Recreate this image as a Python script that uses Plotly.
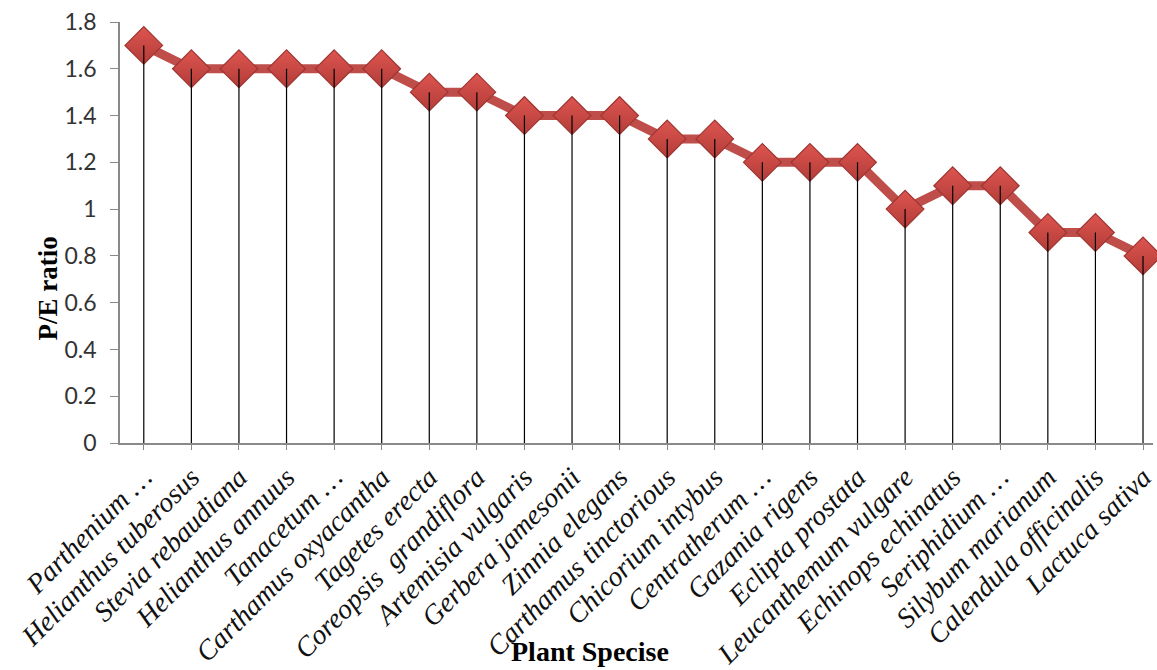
import plotly.graph_objects as go

species = [
    "Parthenium …", "Helianthus tuberosus", "Stevia rebaudiana", "Helianthus annuus",
    "Tanacetum …", "Carthamus oxyacantha", "Tagetes erecta", "Coreopsis\u00a0 grandiflora",
    "Artemisia vulgaris", "Gerbera jamesonii", "Zinnia elegans", "Carthamus tinctorious",
    "Chicorium intybus", "Centratherum …", "Gazania rigens", "Eclipta prostata",
    "Leucanthemum vulgare", "Echinops echinatus", "Seriphidium …", "Silybum marianum",
    "Calendula officinalis", "Lactuca sativa",
]
pe_ratio = [1.7, 1.6, 1.6, 1.6, 1.6, 1.6, 1.5, 1.5, 1.4, 1.4, 1.4, 1.3, 1.3,
            1.2, 1.2, 1.2, 1.0, 1.1, 1.1, 0.9, 0.9, 0.8]
y_ticks = [0, 0.2, 0.4, 0.6, 0.8, 1.0, 1.2, 1.4, 1.6, 1.8]
y_tick_text = ["0", "0.2", "0.4", "0.6", "0.8", "1", "1.2", "1.4", "1.6", "1.8"]

# drop lines built from the data
drop_x, drop_y = [], []
for s, v in zip(species, pe_ratio):
    drop_x += [s, s, None]
    drop_y += [v, 0, None]

fig = go.Figure()
fig.add_trace(go.Scatter(
    x=species, y=pe_ratio, mode="lines",
    line=dict(color="#BF4D4A", width=9),
    cliponaxis=False, hoverinfo="skip", showlegend=False,
))
fig.add_trace(go.Scatter(
    x=species, y=pe_ratio, mode="markers",
    marker=dict(symbol="diamond", size=29, color="#DE5550",
                line=dict(color="#9E3532", width=1.2),
                gradient=dict(type="vertical", color="#B23C38")),
    cliponaxis=False, showlegend=False,
))
fig.add_trace(go.Scatter(
    x=drop_x, y=drop_y, mode="lines",
    line=dict(color="#000000", width=1.2),
    cliponaxis=False, hoverinfo="skip", showlegend=False,
))

fig.update_layout(
    width=1157, height=670,
    margin=dict(l=120, r=0, t=22, b=227),
    paper_bgcolor="white", plot_bgcolor="white",
    showlegend=False,
    xaxis=dict(
        type="category", range=[-0.5, 21.21],
        showline=True, linecolor="#898989", linewidth=1.5,
        ticks="outside", ticklen=5, tickcolor="#898989",
        tickangle=-45, showgrid=False,
        tickfont=dict(family="Liberation Serif", size=28, color="#111", style="italic"),
    ),
    yaxis=dict(
        range=[0, 1.8], tickvals=y_ticks, ticktext=y_tick_text,
        showline=True, linecolor="#898989", linewidth=1.5,
        ticks="outside", ticklen=8, tickcolor="#898989",
        ticklabelstandoff=9, showgrid=False, zeroline=False,
        tickfont=dict(family="Lato", size=23, color="#333"),
    ),
    annotations=[
        dict(text="<b>P/E ratio</b>", textangle=-90, xref="paper", yref="paper",
             x=-0.0694, y=0.368, xanchor="center", yanchor="middle", showarrow=False,
             font=dict(family="Liberation Serif", size=27, color="#000")),
        dict(text="<b>Plant Specise</b>", xref="paper", yref="paper",
             x=0.455, y=-0.496, xanchor="center", yanchor="middle", showarrow=False,
             font=dict(family="Liberation Serif", size=28, color="#000")),
    ],
)

fig.write_html("out.html")
